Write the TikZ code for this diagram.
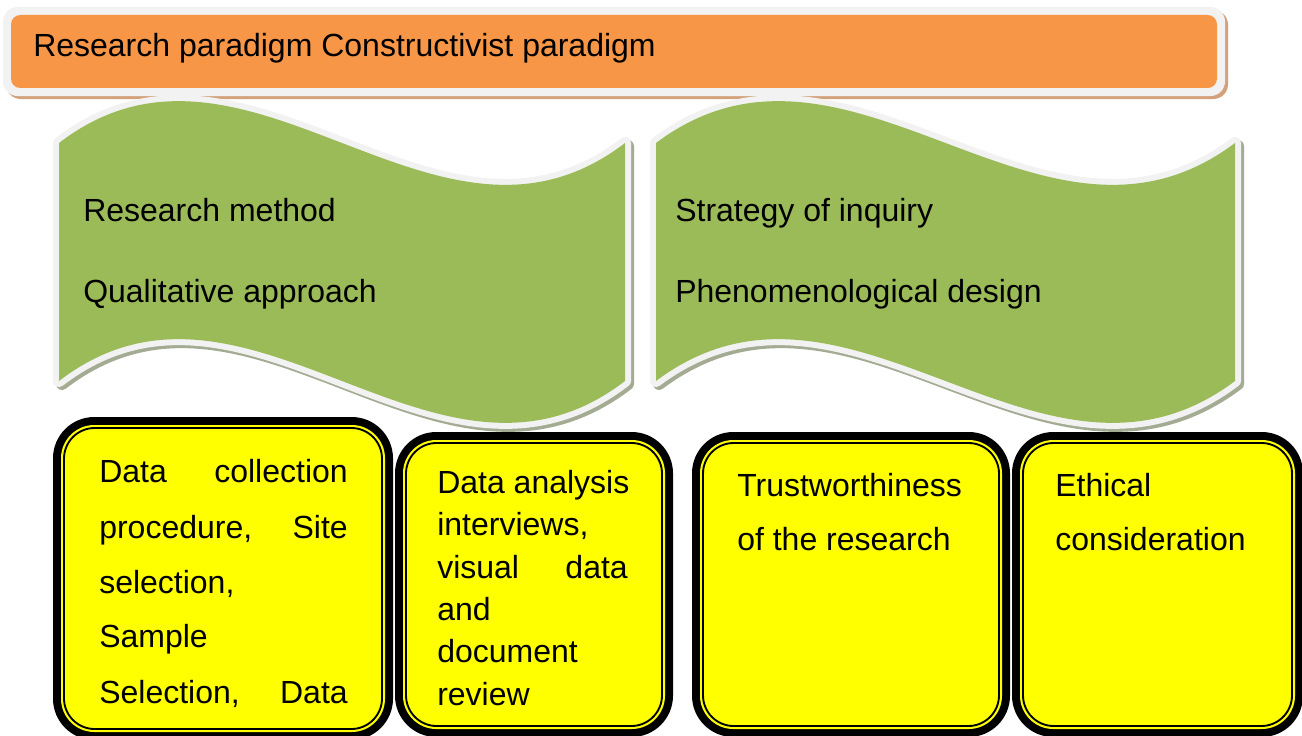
\documentclass[tikz,border=0pt]{standalone}
\usepackage{fontspec}
\setmainfont{Liberation Sans}
\definecolor{orng}{HTML}{F79646}
\definecolor{hdrsh}{HTML}{D3A27C}
\definecolor{brd}{HTML}{F2F2F2}
\definecolor{grn}{HTML}{9BBB59}
\definecolor{grnsh}{HTML}{A3AB93}
\definecolor{ylw}{HTML}{FFFF00}
\newcommand\ybox[4]{%
  \fill[boxout] (#1,#2) rectangle (#3,#4);
  \fill[boxin] (#1+8,#2+8) rectangle (#3-8,#4-8);
  \draw[boxline] (#1+11,#2+11) rectangle (#3-11,#4-11);}
\newcommand\leftwave{(59,143) .. controls (247.7,-2) and (436.3,288) .. (625,143) -- (625,381) .. controls (436.3,526) and (247.7,236) .. (59,381) -- cycle}
\newcommand\rightwave{(656,143) .. controls (849,-2) and (1042,288) .. (1235,143) -- (1235,381) .. controls (1042,526) and (849,236) .. (656,381) -- cycle}
\begin{document}
\begin{tikzpicture}[x=0.75pt,y=-0.75pt,
  txt/.style={font=\fontsize{24}{28}\selectfont, inner sep=0pt, anchor=base west},
  txtr/.style={txt, anchor=base east},
  boxout/.style={fill=black, rounded corners=31pt},
  boxin/.style={fill=ylw, rounded corners=25pt},
  boxline/.style={draw=black, line width=1.4pt, rounded corners=23pt},
  waveshadow/.style={draw=grnsh, line width=9pt, line join=round},
  waveborder/.style={draw=brd, line width=9pt, line join=round},
  wavefill/.style={fill=grn}]
\useasboundingbox (0,0) rectangle (1302,735);
\clip (0,0) rectangle (1302,735);
% header
\fill[hdrsh, rounded corners=11pt] (6,10) rectangle (1228,99);
\fill[brd, rounded corners=11pt] (3,7) rectangle (1225,96);
\fill[orng, rounded corners=7pt] (11,15) rectangle (1217,88);
\node[txt] (hdr) at (33,57) {Research paradigm Constructivist paradigm};
% waves
\draw[waveshadow, shift={(3,3)}] \leftwave;
\draw[waveborder] \leftwave;
\fill[wavefill] \leftwave;
\draw[waveshadow, shift={(3,3)}] \rightwave;
\draw[waveborder] \rightwave;
\fill[wavefill] \rightwave;
\node[txt] (rm) at (83,221) {Research method};
\node[txt] (qa) at (83,302) {Qualitative approach};
\node[txt] (si) at (675,221) {Strategy of inquiry};
\node[txt] (pd) at (675,302) {Phenomenological design};
% boxes
\ybox{53}{417}{393}{740}
\ybox{395}{432}{673}{737}
\ybox{692}{432}{1010}{737}
\ybox{1012}{432}{1303}{737}
% box 1
\node[txt] (b1a) at (99,482) {Data};
\node[txtr] (b1b) at (348,482) {collection};
\node[txt] (b1c) at (99,538) {procedure,};
\node[txtr] (b1d) at (348,538) {Site};
\node[txt] (b1e) at (99,593) {selection,};
\node[txt] (b1f) at (99,647) {Sample};
\node[txt] (b1g) at (99,703) {Selection,};
\node[txtr] (b1h) at (348,703) {Data};
% box 2
\node[txt] (b2a) at (437,493) {Data analysis};
\node[txt] (b2b) at (437,535) {interviews,};
\node[txt] (b2c) at (437,578) {visual};
\node[txtr] (b2d) at (628,578) {data};
\node[txt] (b2e) at (437,620) {and};
\node[txt] (b2f) at (437,662) {document};
\node[txt] (b2g) at (437,705) {review};
% box 3
\node[txt] (b3a) at (737,496) {Trustworthiness};
\node[txt] (b3b) at (737,550) {of the research};
% box 4
\node[txt] (b4a) at (1055,496) {Ethical};
\node[txt] (b4b) at (1055,550) {consideration};
\end{tikzpicture}
\end{document}
